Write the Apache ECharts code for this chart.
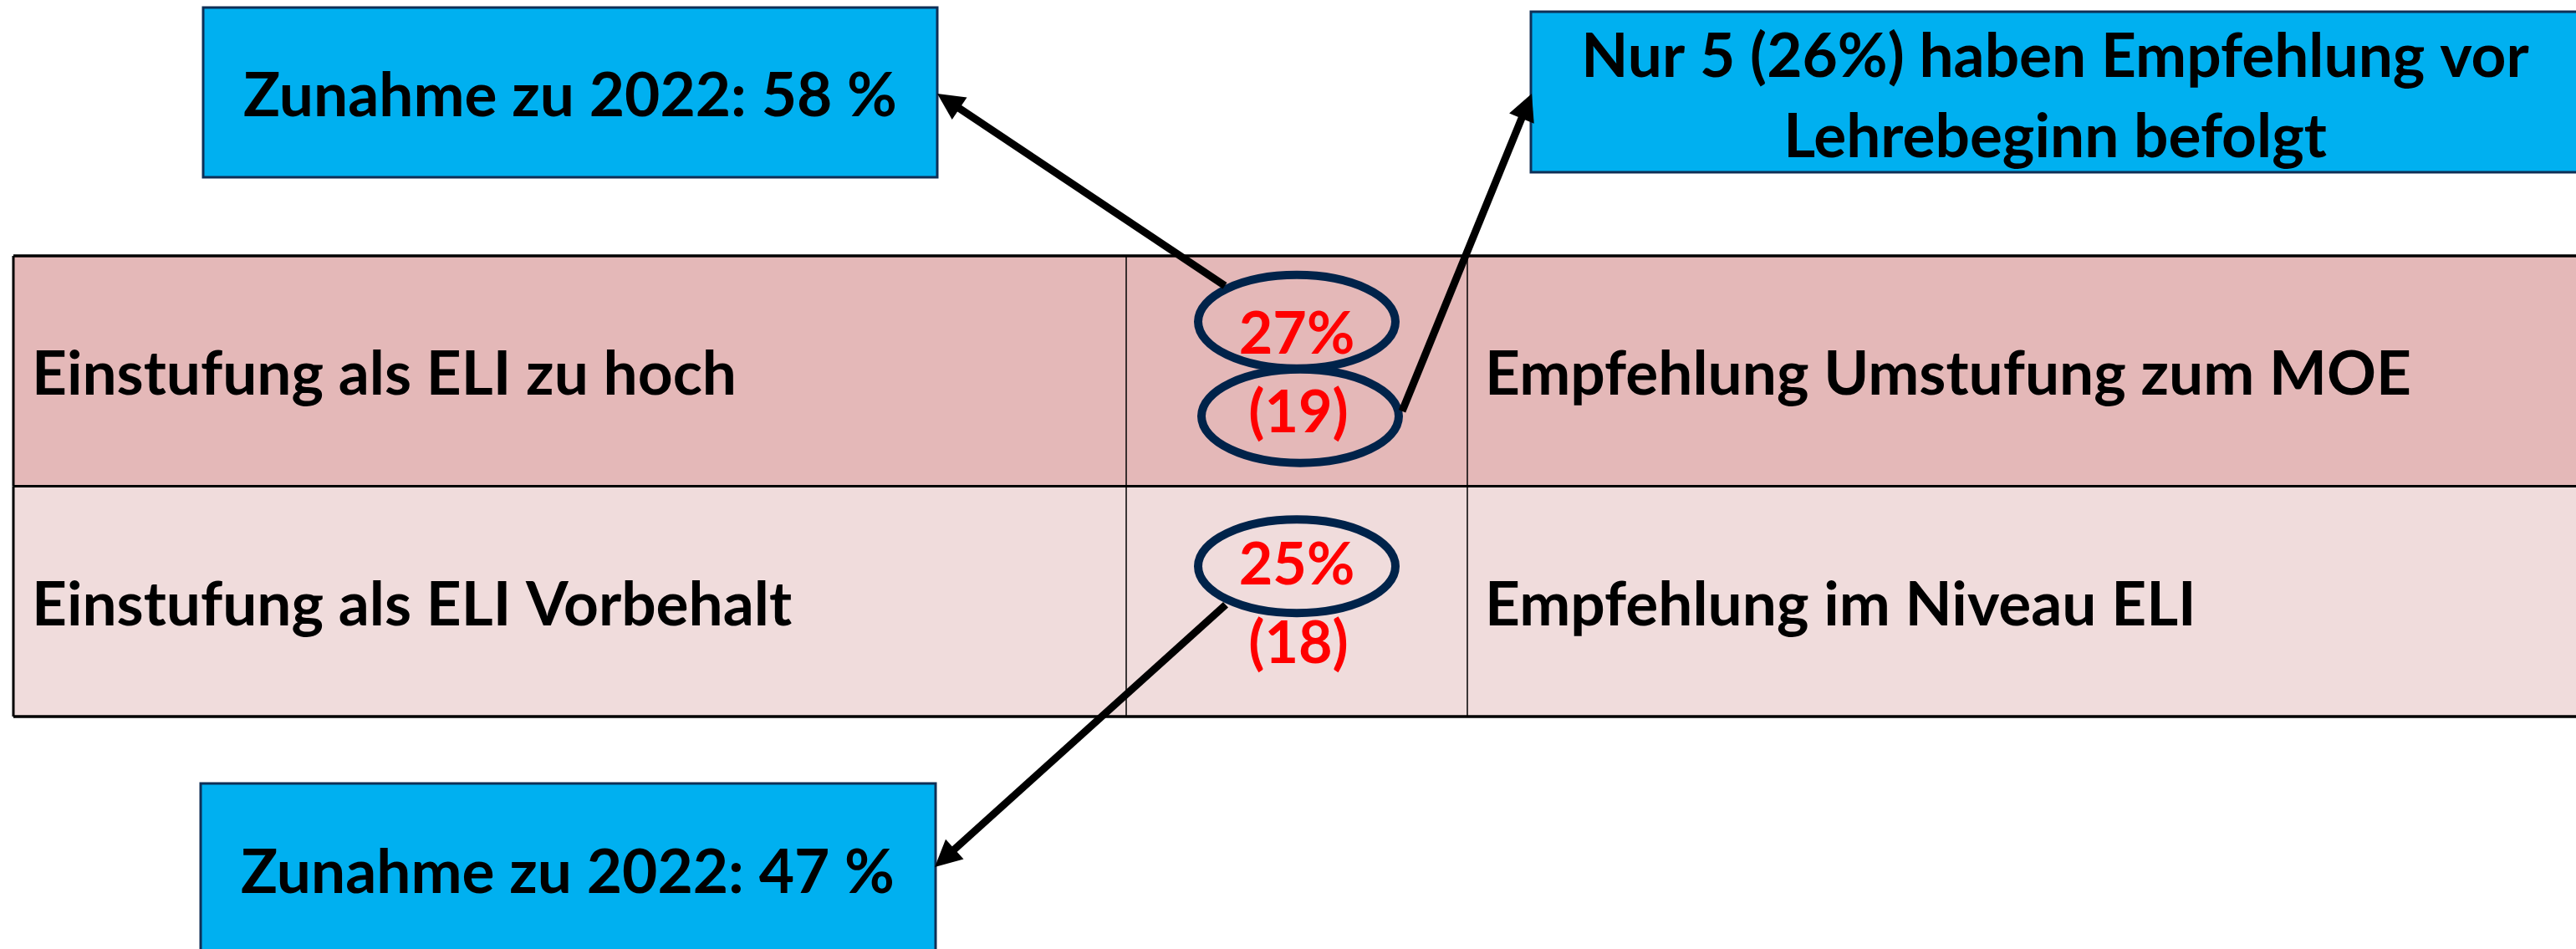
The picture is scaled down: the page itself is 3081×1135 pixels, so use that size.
<!DOCTYPE html>
<html>
<head>
<meta charset="utf-8">
<style>
  html, body { margin: 0; padding: 0; background: #fff; }
  #main { width: 3081px; height: 1135px; }
</style>
<script src="https://cdn.jsdelivr.net/npm/echarts@6/dist/echarts.min.js"></script>
</head>
<body>
<div id="main"></div>
<script>
// Daten
var rowLabels = ['Einstufung als ELI zu hoch', 'Einstufung als ELI Vorbehalt'];
var recommendations = ['Empfehlung Umstufung zum MOE', 'Empfehlung im Niveau ELI'];
var shares = [27, 25];
var counts = [19, 18];
var countCircled = [true, false];
var calloutTexts = [
  'Zunahme zu 2022: 58 %',
  'Nur 5 (26%) haben Empfehlung vor\nLehrebeginn befolgt',
  'Zunahme zu 2022: 47 %'
];

// Layout
var FONT = 'Lato';
var FS = 73;
var RED_FS = 70;
var rowColors = ['#e4b8b8', '#f0dcdc'];
var colEdges = [0, 1331, 1739, 3200];   // px ab linkem Tabellenrand
var shareRingDy = [-59, -42];
var countRingDy = 54;
var ringRx = 118, ringRy = 56;
var ringColor = '#00234a';

var myChart = echarts.init(document.getElementById('main'));

function renderRow(params, api) {
  var idx = api.value(1);
  var c = api.coord([0, idx]);
  var bandH = api.size([0, 1])[1];
  var left = params.coordSys.x;
  var top = c[1] - bandH / 2;
  var cy = c[1];
  var midX = left + (colEdges[1] + colEdges[2]) / 2;
  var children = [
    { type: 'rect', z2: 0, shape: { x: left, y: top, width: colEdges[3], height: bandH },
      style: { fill: rowColors[idx] } },
    { type: 'line', z2: 5, shape: { x1: left + colEdges[1], y1: top, x2: left + colEdges[1], y2: top + bandH },
      style: { stroke: '#000', lineWidth: 1.5 } },
    { type: 'line', z2: 5, shape: { x1: left + colEdges[2], y1: top, x2: left + colEdges[2], y2: top + bandH },
      style: { stroke: '#000', lineWidth: 1.5 } },
    { type: 'line', z2: 6, shape: { x1: left, y1: top, x2: left, y2: top + bandH },
      style: { stroke: '#000', lineWidth: 3 } },
    { type: 'line', z2: 6, shape: { x1: left, y1: top, x2: left + colEdges[3], y2: top },
      style: { stroke: '#000', lineWidth: idx === 0 ? 3.5 : 3 } },
    { type: 'text', z2: 10, style: { text: rowLabels[idx], x: left + 22, y: cy + 5, align: 'left', verticalAlign: 'middle',
      fontFamily: FONT, fontWeight: 'bold', fontSize: FS, fill: '#000' } },
    { type: 'text', z2: 10, style: { text: recommendations[idx], x: left + colEdges[2] + 21, y: cy + 5, align: 'left', verticalAlign: 'middle',
      fontFamily: FONT, fontWeight: 'bold', fontSize: FS, fill: '#000' } },
    { type: 'text', z2: 10, style: { text: shares[idx] + '%', x: midX, y: cy - 43, align: 'center', verticalAlign: 'middle',
      fontFamily: FONT, fontWeight: 'bold', fontSize: RED_FS, fill: '#ff0000' } },
    { type: 'text', z2: 10, style: { text: '(' + counts[idx] + ')', x: midX + 2, y: cy + 51, align: 'center', verticalAlign: 'middle',
      fontFamily: FONT, fontWeight: 'bold', fontSize: RED_FS, fill: '#ff0000' } },
    { type: 'ellipse', z2: 12, shape: { cx: midX, cy: cy + shareRingDy[idx], rx: ringRx, ry: ringRy },
      style: { fill: 'none', stroke: ringColor, lineWidth: 10 } }
  ];
  if (countCircled[idx]) {
    children.push({ type: 'ellipse', z2: 12, shape: { cx: midX + 4, cy: cy + countRingDy, rx: ringRx, ry: ringRy },
      style: { fill: 'none', stroke: ringColor, lineWidth: 10 } });
  }
  if (idx === rowLabels.length - 1) {
    children.push({ type: 'line', z2: 6, shape: { x1: left, y1: top + bandH, x2: left + colEdges[3], y2: top + bandH },
      style: { stroke: '#000', lineWidth: 3.5 } });
  }
  return { type: 'group', children: children };
}

var option = {
  animation: false,
  grid: { left: 16, top: 306, width: 3200, height: 551 },
  xAxis: { type: 'value', min: 0, max: 1, show: false },
  yAxis: { type: 'category', data: rowLabels, inverse: true, show: false },
  series: [{
    type: 'custom',
    renderItem: renderRow,
    data: rowLabels.map(function (l, i) { return [0, i]; }),
    clip: false
  }]
};
myChart.setOption(option);

// Hinweiskästen und Pfeile
function rowY(i) { return myChart.convertToPixel({ gridIndex: 0 }, [0, i])[1]; }
var midX = 16 + (colEdges[1] + colEdges[2]) / 2;

var boxes = [
  { x: 243, y: 9, w: 878, h: 203, tx: 682, ty: 115 },
  { x: 1831, y: 14, w: 1280, h: 192, tx: 2458, ty: 116 },
  { x: 240, y: 937, w: 879, h: 240, tx: 679, ty: 1044 }
];
var arrows = [
  { from: [midX - 86, rowY(0) + shareRingDy[0] - 43], tip: [1121, 112] },
  { from: [midX + 126, rowY(0) + countRingDy - 6], tip: [1832, 112] },
  { from: [midX - 85, rowY(1) + shareRingDy[1] + 46], tip: [1118, 1037] }
];

var elements = [];
boxes.forEach(function (b, i) {
  elements.push({ type: 'rect', z: 100, shape: { x: b.x, y: b.y, width: b.w, height: b.h },
    style: { fill: '#00b0f0', stroke: '#0e2f56', lineWidth: 3 } });
  elements.push({ type: 'text', z: 102, style: { text: calloutTexts[i], x: b.tx, y: b.ty, align: 'center', verticalAlign: 'middle',
    fontFamily: FONT, fontWeight: 'bold', fontSize: FS, lineHeight: 96, fill: '#000' } });
});
arrows.forEach(function (a) {
  var dx = a.tip[0] - a.from[0], dy = a.tip[1] - a.from[1];
  var len = Math.sqrt(dx * dx + dy * dy);
  var ux = dx / len, uy = dy / len;
  var L = 32, W = 16;
  var bx = a.tip[0] - ux * L, by = a.tip[1] - uy * L;
  elements.push({ type: 'line', z: 101, shape: { x1: a.from[0], y1: a.from[1], x2: bx + ux * 4, y2: by + uy * 4 },
    style: { stroke: '#000', lineWidth: 9 } });
  elements.push({ type: 'polygon', z: 101, shape: { points: [a.tip, [bx - uy * W, by + ux * W], [bx + uy * W, by - ux * W]] },
    style: { fill: '#000' } });
});
myChart.setOption({ graphic: { elements: elements } });

window.addEventListener('resize', function () {
  myChart.resize();
});
</script>
</body>
</html>
